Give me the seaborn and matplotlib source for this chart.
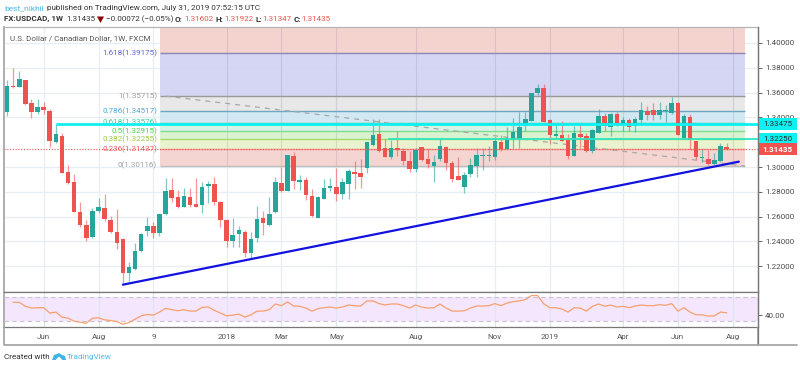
import matplotlib
matplotlib.use("Agg")
import matplotlib.pyplot as plt
import numpy as np
import pandas as pd
import seaborn as sns
from matplotlib.patches import Polygon, Rectangle
from matplotlib.transforms import blended_transform_factory

opens = [1.3443,1.3655,1.3645,1.3701,1.3516,1.3443,1.3484,1.3451,1.3202,1.3250,
         1.2960,1.2879,1.2637,1.2532,1.2436,1.2645,1.2670,1.2573,1.2476,1.2420,
         1.2146,1.2178,1.2323,1.2484,1.2524,1.2468,1.2621,1.2815,1.2758,1.2678,
         1.2758,1.2702,1.2694,1.2847,1.2863,1.2718,1.2573,1.2404,1.2460,1.2476,
         1.2307,1.2428,1.2589,1.2532,1.2637,1.2871,1.2807,1.3089,1.2883,1.2895,
         1.2766,1.2589,1.2742,1.2831,1.2839,1.2782,1.2863,1.2960,1.2952,1.2992,
         1.3177,1.3266,1.3153,1.3081,1.3153,1.3129,1.3048,1.2984,1.3161,1.3064,
         1.3008,1.3064,1.3161,1.3032,1.2927,1.2839,1.2944,1.3008,1.3089,1.3089,
         1.3081,1.3202,1.3145,1.3218,1.3226,1.3330,1.3371,1.3596,1.3637,1.3379,
         1.3250,1.3258,1.3218,1.3089,1.3266,1.3250,1.3129,1.3274,1.3411,1.3322,
         1.3427,1.3339,1.3379,1.3330,1.3379,1.3451,1.3459,1.3419,1.3451,1.3435,
         1.3516,1.3234,1.3403,1.3210,1.3073,1.3064,1.3024,1.3048,1.31602]
highs = [1.3701,1.3798,1.3774,1.3705,1.3548,1.3548,1.3524,1.3467,1.3347,1.3274,
         1.3016,1.2944,1.2718,1.2573,1.2670,1.2750,1.2782,1.2605,1.2661,1.2428,
         1.2234,1.2387,1.2468,1.2597,1.2557,1.2621,1.2911,1.2911,1.2815,1.2831,
         1.2831,1.2911,1.2879,1.2887,1.2919,1.2726,1.2581,1.2589,1.2524,1.2492,
         1.2476,1.2686,1.2645,1.2758,1.2919,1.3000,1.3097,1.3121,1.2936,1.2919,
         1.2823,1.2766,1.2903,1.2911,1.2992,1.2911,1.2984,1.3048,1.3064,1.3202,
         1.3387,1.3387,1.3226,1.3218,1.3290,1.3153,1.3129,1.3153,1.3161,1.3145,
         1.3097,1.3226,1.3169,1.3048,1.3081,1.2960,1.3073,1.3153,1.3153,1.3169,
         1.3242,1.3258,1.3322,1.3395,1.3443,1.3443,1.3596,1.3669,1.3669,1.3387,
         1.3339,1.3371,1.3266,1.3330,1.3339,1.3274,1.3306,1.3467,1.3435,1.3435,
         1.3443,1.3403,1.3395,1.3403,1.3524,1.3492,1.3516,1.3524,1.3500,1.3564,
         1.3524,1.3427,1.3427,1.3210,1.3145,1.3137,1.3113,1.3193,1.31922]
lows = [1.3411,1.3637,1.3645,1.3500,1.3395,1.3427,1.3427,1.3161,1.3193,1.2952,
        1.2863,1.2637,1.2516,1.2404,1.2428,1.2629,1.2565,1.2468,1.2339,1.2065,
        1.2081,1.2170,1.2315,1.2444,1.2428,1.2444,1.2613,1.2718,1.2670,1.2678,
        1.2678,1.2678,1.2629,1.2710,1.2694,1.2516,1.2355,1.2355,1.2355,1.2275,
        1.2258,1.2396,1.2452,1.2524,1.2629,1.2798,1.2807,1.2823,1.2815,1.2734,
        1.2597,1.2589,1.2742,1.2807,1.2726,1.2742,1.2742,1.2823,1.2831,1.2952,
        1.3169,1.3121,1.3081,1.3064,1.3089,1.3016,1.2960,1.2960,1.3048,1.2992,
        1.2879,1.3048,1.2976,1.2879,1.2895,1.2790,1.2919,1.2919,1.2976,1.3048,
        1.3056,1.3129,1.3145,1.3153,1.3153,1.3290,1.3371,1.3580,1.3363,1.3185,
        1.3226,1.3210,1.3064,1.3089,1.3153,1.3121,1.3113,1.3274,1.3290,1.3250,
        1.3330,1.3290,1.3290,1.3282,1.3339,1.3379,1.3379,1.3387,1.3363,1.3427,
        1.3258,1.3234,1.3145,1.3056,1.3040,1.3016,1.3016,1.3040,1.31347]
closes = [1.3653,1.3642,1.3709,1.3508,1.3443,1.3484,1.3459,1.3210,1.3266,1.2952,
          1.2871,1.2637,1.2532,1.2428,1.2645,1.2678,1.2581,1.2476,1.2387,1.2146,
          1.2194,1.2323,1.2460,1.2524,1.2468,1.2621,1.2807,1.2750,1.2678,1.2766,
          1.2694,1.2678,1.2839,1.2863,1.2718,1.2573,1.2404,1.2452,1.2492,1.2307,
          1.2420,1.2581,1.2549,1.2621,1.2879,1.2807,1.3097,1.2887,1.2895,1.2774,
          1.2605,1.2758,1.2831,1.2847,1.2782,1.2879,1.2968,1.2944,1.2919,1.3202,
          1.3258,1.3129,1.3081,1.3153,1.3137,1.3048,1.2984,1.3137,1.3056,1.3024,
          1.3040,1.3169,1.3032,1.2903,1.2895,1.2936,1.3016,1.3097,1.3097,1.3097,
          1.3210,1.3145,1.3234,1.3282,1.3322,1.3387,1.3596,1.3637,1.3363,1.3258,
          1.3266,1.3210,1.3089,1.3274,1.3242,1.3129,1.3298,1.3411,1.3330,1.3427,
          1.3339,1.3379,1.3322,1.3387,1.3459,1.3419,1.3419,1.3459,1.3459,1.3516,
          1.3258,1.3411,1.3218,1.3081,1.3081,1.3024,1.3056,1.3169,1.31435]
rsi_values = [61.6,61.6,54.9,52.0,52.6,52.6,43.6,45.3,36.8,35.1,30.0,28.3,26.6,35.1,35.6,32.3,
              31.1,29.4,24.9,27.7,33.4,39.0,41.3,40.2,45.3,51.5,49.2,47.5,49.2,46.9,46.9,53.2,
              53.7,48.1,43.6,39.0,40.2,41.9,36.8,40.7,46.9,46.9,49.2,58.8,56.0,62.2,55.4,54.9,
              52.0,46.9,50.9,52.6,53.7,52.0,53.7,57.1,56.0,55.4,63.9,63.9,59.4,57.1,58.8,58.8,
              56.0,52.0,57.1,53.7,52.0,52.6,58.8,52.0,46.9,46.9,47.5,52.0,55.4,55.4,56.0,59.4,
              56.0,60.5,62.8,63.9,66.2,72.9,72.9,59.4,52.6,52.6,50.3,45.3,52.6,52.0,46.9,54.9,
              58.8,54.9,57.1,53.7,54.9,52.6,55.4,57.1,56.0,56.0,57.7,56.6,59.4,46.9,52.6,45.3,
              40.7,40.7,38.5,39.0,45.3,44.1]

fib_ratios = ["1.618", "1", "0.786", "0.618", "0.5", "0.382", "0.236", "0"]
fib_prices = [1.39175, 1.35715, 1.34517, 1.33576, 1.32915, 1.32255, 1.31437, 1.30116]
fib_text = ["#5f5fd8", "#a0a0a0", "#4ea6d6", "#33cf96", "#3fd43f", "#9ccb3a", "#ef5f5c", "#a0a0a0"]
fib_lines = ["#8f86b8", "#9a9a9a", "#6fa8c6", "#35d6a6", "#84dc92", "#a7d96c", "#ef9a96", "#bdbdbd"]
fib_bands = ["#d2d2f4", "#e6e6e6", "#cfe7f3", "#d3f3e6", "#d6f3cd", "#e8f3cb", "#f5d2ce"]
fib_top_band = "#f4d0cc"

price_ticks = [1.22, 1.24, 1.26, 1.28, 1.30, 1.34, 1.36, 1.38, 1.40]
time_ticks = [6, 15, 24, 36, 45, 54, 67, 80, 89, 101, 110, 119]
time_labels = ["Jun", "Aug", "9", "2018", "Mar", "May", "Aug", "Nov", "2019", "Apr", "Jun", "Aug"]

rising_week = [19, 120]
rising_price = [1.2051, 1.3043]
falling_week = [26, 121]
falling_price = [1.3572, 1.3008]

GREEN = "#26a69a"
RED = "#ef5350"
W, H = 800, 368


def px_axes(fig, x0, y0, x1, y1):
    return fig.add_axes([x0 / W, 1 - y1 / H, (x1 - x0) / W, (y1 - y0) / H])


sns.set_style("white")
plt.rcParams["font.family"] = ["Roboto", "DejaVu Sans"]

df = pd.DataFrame({"week": np.arange(len(opens)), "open": opens, "high": highs, "low": lows, "close": closes})
df["color"] = np.where(df["close"] >= df["open"], GREEN, RED)
rsi = pd.DataFrame({"week": np.arange(1, len(rsi_values) + 1), "rsi": rsi_values})

fig = plt.figure(figsize=(W / 100, H / 100), dpi=100, facecolor="white")
ax = px_axes(fig, 4, 27, 758, 291.5)
ax_rsi = px_axes(fig, 4, 291.5, 758, 327)

xlim = (-0.5, 123.15)
ylim = (1.1996, 1.4129)
ax.set_xlim(xlim)
ax.set_ylim(ylim)

# grid
for t in time_ticks:
    ax.axvline(t, color="#e8eef3", lw=0.9, zorder=0)
    ax_rsi.axvline(t, color="#dfe6ee", lw=0.9, zorder=2)
    if t > 25.1 and t < 121:
        ax.vlines(t, fib_prices[-1], ylim[1], color="#777799", lw=0.8, alpha=0.18, zorder=2)
for p in price_ticks:
    ax.axhline(p, color="#e8eef3", lw=0.9, zorder=0)

# fibonacci bands
fib_x0, fib_x1 = 25.1, 121
ax.fill_between([fib_x0, fib_x1], fib_prices[0], ylim[1], color=fib_top_band, lw=0, alpha=0.95, zorder=1)
for i, c in enumerate(fib_bands):
    ax.fill_between([fib_x0, fib_x1], fib_prices[i + 1], fib_prices[i], color=c, lw=0, alpha=0.92, zorder=1)
for ratio, p, tc, lc in zip(fib_ratios, fib_prices, fib_text, fib_lines):
    ax.hlines(p, fib_x0, fib_x1, color=lc, lw=1.0, zorder=2)
    ax.text(fib_x0 - 0.5, p, f"{ratio}({p:.5f})", color=tc, fontsize=5.8, ha="right", va="center", zorder=6)

# trend lines
sns.lineplot(x=falling_week, y=falling_price, ax=ax, color="#a8a8a8", lw=0.9, linestyle=(0, (4, 4)), zorder=3, errorbar=None)

# candles
ax.vlines(df["week"], df["low"], df["high"], colors=df["color"], lw=0.9, alpha=0.6, zorder=4)
ax.bar(df["week"], (df["close"] - df["open"]).abs().clip(lower=0.0006), bottom=df[["open", "close"]].min(axis=1),
       width=0.74, color=df["color"], lw=0, zorder=5)

sns.lineplot(x=rising_week, y=rising_price, ax=ax, color="#1212e0", lw=1.6, zorder=7, errorbar=None)

# horizontal levels
ax.hlines(1.33475, 8, xlim[1], color="#0ff0f0", lw=2.0, zorder=6)
ax.hlines(1.32250, 62.5, xlim[1], color="#2fe6bd", lw=1.3, zorder=6)
ax.axhline(closes[-1], color=RED, lw=0.8, linestyle=(0, (1, 1.5)), zorder=6)

# right scale
ax.yaxis.tick_right()
ax.set_yticks(price_ticks)
ax.set_yticklabels([f"{p:.5f}" for p in price_ticks], fontsize=5.8, color="#4a4a4a")
ax.tick_params(axis="y", length=3, width=0.7, color="#666666", pad=2, right=True)
ax.set_xticks([])
ax.set_ylabel("")
ax.set_xlabel("")

trans = blended_transform_factory(fig.transFigure, ax.transData)
for p, face, tc, bold in [(1.33475, "#0ff0f0", "#2a2a2a", False), (1.32250, "#0ff0f0", "#2a2a2a", False), (1.31435, RED, "white", True)]:
    ax.add_patch(Rectangle((758 / W, p - 6.2 / 1240), 38.5 / W, 12.4 / 1240, transform=trans, color=face, lw=0,
                           clip_on=False, zorder=8))
    ax.text(777.5 / W, p, f"{p:.5f}", transform=trans, color=tc, fontsize=5.8, ha="center", va="center",
            fontweight="bold" if bold else "normal", zorder=9, clip_on=False)

# rsi panel
ax_rsi.set_xlim(xlim)
ax_rsi.set_ylim(20.3, 79.7)
ax_rsi.axhspan(30, 70, color="#f3e6fd", lw=0, zorder=1)
ax_rsi.axhline(30, color="#c9c0d2", lw=0.8, linestyle=(0, (4, 3)), zorder=3)
ax_rsi.axhline(70, color="#c9c0d2", lw=0.8, linestyle=(0, (4, 3)), zorder=3)
sns.lineplot(data=rsi, x="week", y="rsi", ax=ax_rsi, color="#f7a06c", lw=0.9, zorder=4, errorbar=None)
ax_rsi.yaxis.tick_right()
ax_rsi.set_yticks([40])
ax_rsi.set_yticklabels(["40.00"], fontsize=5.8, color="#4a4a4a")
ax_rsi.tick_params(axis="y", length=3, width=0.7, color="#666666", pad=2, right=True)
ax_rsi.set_xticks(time_ticks)
ax_rsi.set_xticklabels(time_labels, fontsize=5.8, color="#555555")
ax_rsi.tick_params(axis="x", length=0, pad=5, bottom=True)
ax_rsi.set_xlabel("")
ax_rsi.set_ylabel("")

for a in (ax, ax_rsi):
    for side in a.spines:
        a.spines[side].set_color("#777777")
        a.spines[side].set_linewidth(0.9)
    a.spines["left"].set_color("#a8a8a8")
    a.spines["left"].set_linewidth(1.3)
ax.spines["top"].set_color("#b5b5b5")

# frame, header and footer drawn in pixel units
over = fig.add_axes([0, 0, 1, 1], facecolor="none")
over.set_xlim(0, W)
over.set_ylim(H, 0)
over.axis("off")
over.plot([4, 4, 758, 758], [327, 345, 345, 327], color="#a8a8a8", lw=1.3, solid_capstyle="butt")
over.plot([758, 758], [27, 345], color="#777777", lw=0.9)
over.plot([758, 797], [345, 345], color="#a8a8a8", lw=1.3)

DARK = "#333333"
over.text(4, 8, "best_nikhil", color="#4db8ea", fontsize=6.0, va="center")
over.text(47, 8, "published on TradingView.com, July 31, 2019 07:52:15 UTC", color=DARK, fontsize=5.85, va="center")
over.text(4, 19, "FX:USDCAD, 1W", color=DARK, fontsize=5.75, va="center", fontweight="bold")
over.text(66, 19, "1.31435", color=DARK, fontsize=5.75, va="center")
over.add_patch(Polygon([(97, 16.5), (104, 16.5), (100.5, 23)], color="#8b0000", lw=0))
over.text(106, 19, "\u22120.00072 (\u22120.05%)", color=DARK, fontsize=5.75, va="center")
for x, vx, name, val in [(175, 184, "O:", "1.31602"), (215, 224, "H:", "1.31922"),
                         (255, 262, "L:", "1.31347"), (294, 301, "C:", "1.31435")]:
    over.text(x, 19, name, color=DARK, fontsize=5.75, va="center", fontweight="bold")
    over.text(vx, 19, val, color=RED, fontsize=5.75, va="center")
over.text(10, 38, "U.S. Dollar / Canadian Dollar, 1W, FXCM", color="#555555", fontsize=5.8, va="center")

over.text(4, 357, "Created with", color=DARK, fontsize=5.9, va="center")
over.add_patch(Polygon([(52, 360), (54, 355), (57, 354), (59, 353), (62, 355), (65, 356), (66, 360), (62.5, 360),
                        (59, 356.5), (55.5, 360)], color="#3fb4e6", lw=0))
over.text(66.5, 357, "TradingView", color="#5cb8e8", fontsize=5.9, va="center")

fig.savefig("out.png", dpi=100)
plt.close("all")
